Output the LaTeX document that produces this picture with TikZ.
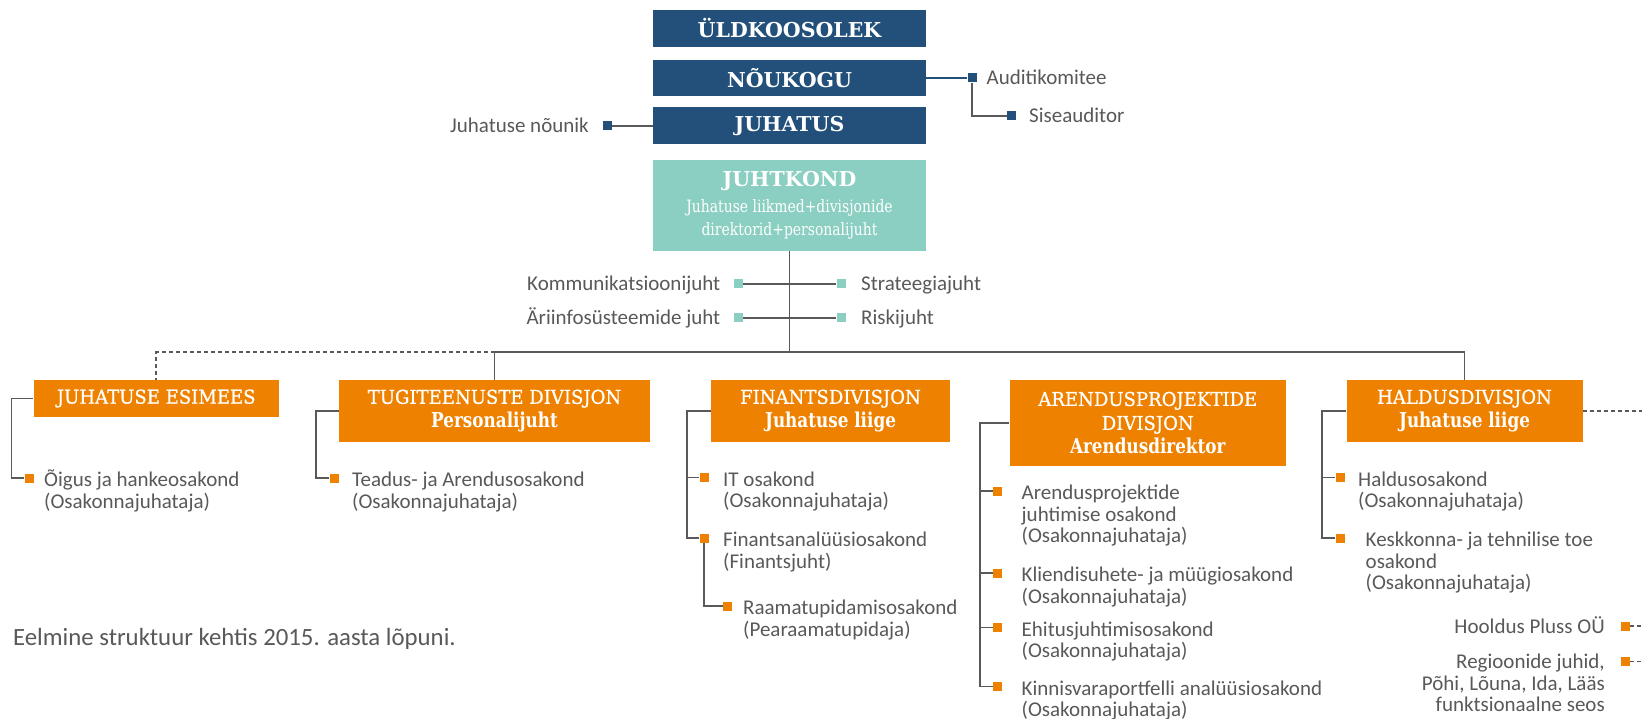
\documentclass[tikz,border=0pt]{standalone}
\usepackage{fontspec}
\setmainfont{Carlito}
\newfontfamily\slab{DejaVu Serif}
\newfontfamily\slabc{DejaVu Serif}[FakeStretch=0.82]
\newfontfamily\slabm{DejaVu Serif}[FakeStretch=0.95, FakeBold=0.8]
\usetikzlibrary{backgrounds}
\definecolor{navyc}{HTML}{22507A}
\definecolor{tealc}{HTML}{8BCFC2}
\definecolor{orgc}{HTML}{EE8200}
\definecolor{txtc}{HTML}{595959}
\definecolor{lnc}{HTML}{595959}
\newcommand\ml[1]{\begin{tabular}[t]{@{}l@{}}#1\end{tabular}}
\newcommand\mr[1]{\begin{tabular}[t]{@{}r@{}}#1\end{tabular}}
\newcommand\rolef{\slabc\bfseries\fontsize{20.5}{24}\selectfont}
\tikzset{
  topbox/.style={fill=navyc, text=white, minimum width=273, minimum height=37, inner sep=0,
    font=\slab\bfseries\fontsize{20.5}{24}\selectfont},
  obox/.style={fill=orgc, text=white, align=center, inner sep=0,
    font=\slabm\fontsize{19}{24}\selectfont},
  body/.style={text=txtc, inner sep=0, font=\fontsize{21}{21.5}\selectfont},
  sqo/.style={fill=orgc, minimum size=9, inner sep=0},
  sqt/.style={fill=tealc, minimum size=9, inner sep=0},
  sqn/.style={fill=navyc, minimum size=9, inner sep=0},
  conn/.style={draw=lnc, line width=1.8},
  nconn/.style={draw=navyc, line width=1.8},
  dconn/.style={draw=lnc, line width=1.6, dash pattern=on 4 off 3},
}
\begin{document}
\begin{tikzpicture}[x=1pt, y=-1pt]
\useasboundingbox (0,0) rectangle (1642,719);
% top boxes
\node[topbox] (uld) at (789.5,28.5) {ÜLDKOOSOLEK};
\node[topbox, minimum height=36] (nou) at (789.5,78) {NÕUKOGU};
\node[topbox] (juh) at (789.5,126) {JUHATUS};
\node[fill=tealc, text=white, minimum width=273, minimum height=91, inner sep=0, align=center,
  font=\slabc\fontsize{17}{23}\selectfont] (jk) at (789.5,205.5)
  {{\slab\bfseries\fontsize{20.5}{25}\selectfont JUHTKOND}\\[3pt]Juhatuse liikmed+divisjonide\\direktorid+personalijuht};
% side items top
\node[sqn] (nun) at (607,126) {};
\node[body, anchor=base east] (nunt) at (589,133) {Juhatuse nõunik};
\node[sqn] (aud) at (972,78) {};
\node[body, anchor=base west] (audt) at (986.5,85) {Auditikomitee};
\node[sqn] (sis) at (1011.5,116) {};
\node[body, anchor=base west] (sist) at (1029,123) {Siseauditor};
% staff
\node[sqt] (kom) at (738,284) {};
\node[sqt] (strat) at (841,284) {};
\node[sqt] (ari) at (738,318) {};
\node[sqt] (risk) at (841,318) {};
\node[body, anchor=base east] (komt) at (720.5,291) {Kommunikatsioonijuht};
\node[body, anchor=base west] (stratt) at (861,291) {Strateegiajuht};
\node[body, anchor=base east] (arit) at (720.5,325) {Äriinfosüsteemide juht};
\node[body, anchor=base west] (riskt) at (861,325) {Riskijuht};
\coordinate (bus) at (789.5,352);
\coordinate (redge) at (1642,0);
% orange boxes
\node[obox, minimum width=245.5, minimum height=37] (esi) at (156.25,398.5) {JUHATUSE ESIMEES};
\node[obox, minimum width=311, minimum height=62] (tug) at (494.5,411) {TUGITEENUSTE DIVISJON\\{\rolef Personalijuht}};
\node[obox, minimum width=239, minimum height=62] (fin) at (830.5,411) {FINANTSDIVISJON\\{\rolef Juhatuse liige}};
\node[obox, minimum width=276.5, minimum height=86] (are) at (1147.75,423) {ARENDUSPROJEKTIDE\\DIVISJON\\{\rolef Arendusdirektor}};
\node[obox, minimum width=236, minimum height=62] (hal) at (1464.5,411) {HALDUSDIVISJON\\{\rolef Juhatuse liige}};
% items
\node[sqo] (esiA) at (29,478) {};
\node[body, anchor=base west] (esiAt) at (44,486.5) {\ml{Õigus ja hankeosakond\\(Osakonnajuhataja)}};
\node[sqo] (tugA) at (334,478) {};
\node[body, anchor=base west] (tugAt) at (352,486.5) {\ml{Teadus- ja Arendusosakond\\(Osakonnajuhataja)}};
\node[sqo] (finA) at (704,477.5) {};
\node[body, anchor=base west] (finAt) at (723,486) {\ml{IT osakond\\(Osakonnajuhataja)}};
\node[sqo] (finB) at (704,538) {};
\node[body, anchor=base west] (finBt) at (723,546.5) {\ml{Finantsanalüüsiosakond\\(Finantsjuht)}};
\node[sqo] (finC) at (727.5,606) {};
\node[body, anchor=base west] (finCt) at (743,614.5) {\ml{Raamatupidamisosakond\\(Pearaamatupidaja)}};
\node[sqo] (areA) at (997.5,491) {};
\node[body, anchor=base west] (areAt) at (1021.5,499.5) {\ml{Arendusprojektide\\juhtimise osakond\\(Osakonnajuhataja)}};
\node[sqo] (areB) at (997.5,573) {};
\node[body, anchor=base west] (areBt) at (1021.5,581.5) {\ml{Kliendisuhete- ja müügiosakond\\(Osakonnajuhataja)}};
\node[sqo] (areC) at (997.5,627.5) {};
\node[body, anchor=base west] (areCt) at (1021.5,636) {\ml{Ehitusjuhtimisosakond\\(Osakonnajuhataja)}};
\node[sqo] (areD) at (997.5,686.5) {};
\node[body, anchor=base west] (areDt) at (1021.5,695) {\ml{Kinnisvaraportfelli analüüsiosakond\\(Osakonnajuhataja)}};
\node[sqo] (halA) at (1340,477.5) {};
\node[body, anchor=base west] (halAt) at (1358,486) {\ml{Haldusosakond\\(Osakonnajuhataja)}};
\node[sqo] (halB) at (1340,538) {};
\node[body, anchor=base west] (halBt) at (1365.5,546.5) {\ml{Keskkonna- ja tehnilise toe\\osakond\\(Osakonnajuhataja)}};
\node[sqo] (hoo) at (1625,626) {};
\node[body, anchor=base east] (hoot) at (1605,633) {Hooldus Pluss OÜ};
\node[sqo] (reg) at (1625,661.5) {};
\node[body, anchor=base east] (regt) at (1605,668.5) {\mr{Regioonide juhid,\\Põhi, Lõuna, Ida, Lääs\\funktsionaalne seos}};
% footnote
\node[body, anchor=base west, font=\fontsize{24.8}{26}\selectfont] (note) at (13,645) {Eelmine struktuur kehtis 2015. aasta lõpuni.};
% connectors
\begin{scope}[on background layer]
\fill[white] (0,0) rectangle (1642,719);
\draw[nconn] (nou.east) -- (aud);
\draw[conn] (aud) |- (sis);
\draw[conn] (nun) -- (juh.west);
\draw[conn] (jk.south) -- (bus);
\draw[conn] (kom) -- (strat);
\draw[conn] (ari) -- (risk);
\draw[conn] (tug.north) |- (bus) -| (hal.north);
\draw[dconn] (tug.north |- bus) -| (esi.north);
\draw[dconn] (hal.east) -- (hal.east -| redge);
\draw[dconn] (hoo) -- (hoo -| redge);
\draw[dconn] (reg) -- (reg -| redge);
\draw[conn] (esi.west) -- ++(-21.8,0) |- (esiA);
\draw[conn] (tug.west) -- ++(-23,0) |- (tugA);
\draw[conn] (fin.west) -- ++(-24,0) coordinate (finbr) |- (finB);
\draw[conn] (finbr |- finA) -- (finA);
\draw[conn] (finB) |- (finC);
\draw[conn] (are.west) -- ++(-29.5,0) coordinate (arebr) |- (areD);
\draw[conn] (arebr |- areA) -- (areA);
\draw[conn] (arebr |- areB) -- (areB);
\draw[conn] (arebr |- areC) -- (areC);
\draw[conn] (hal.west) -- ++(-24.2,0) coordinate (halbr) |- (halB);
\draw[conn] (halbr |- halA) -- (halA);
\end{scope}
\end{tikzpicture}
\end{document}
